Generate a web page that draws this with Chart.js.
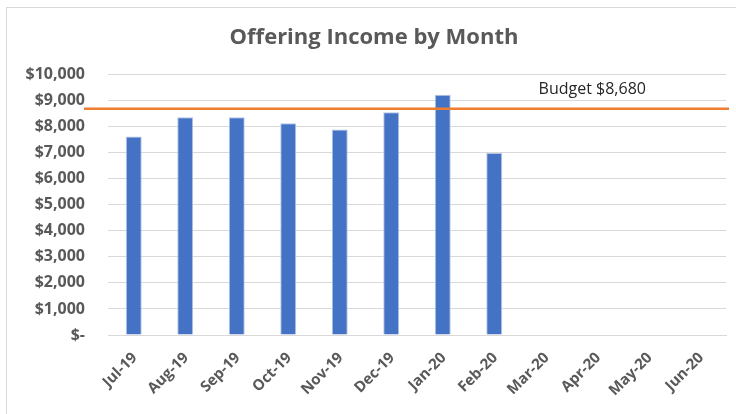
<!DOCTYPE html>
<html>
<head>
<meta charset="utf-8">
<script src="https://cdn.jsdelivr.net/npm/chart.js@4"></script>
<style>
  html, body { margin: 0; padding: 0; background: #fff; overflow: hidden; }
  #wrap { position: absolute; left: 0; top: 0; width: 736px; height: 414px; }
  #frame { position: absolute; left: 6px; top: 7px; width: 760px; height: 440px; border: 1px solid #d9d9d9; box-sizing: border-box; pointer-events: none; }
</style>
</head>
<body>
<div id="wrap"><canvas id="c" width="736" height="414"></canvas></div>
<div id="frame"></div>
<script>
const categories = ["Jul-19","Aug-19","Sep-19","Oct-19","Nov-19","Dec-19","Jan-20","Feb-20","Mar-20","Apr-20","May-20","Jun-20"];
const income = [7620, 8360, 8360, 8130, 7890, 8550, 9220, 6980, null, null, null, null];
const budget = 8680;
const budgetLabel = "Budget $8,680";
const budgetLabelCategory = "Apr-20";
const yTickLabels = {0:"$-",1000:"$1,000",2000:"$2,000",3000:"$3,000",4000:"$4,000",5000:"$5,000",6000:"$6,000",7000:"$7,000",8000:"$8,000",9000:"$9,000",10000:"$10,000"};

const FONT = "'Open Sans', 'Liberation Sans', sans-serif";
const GREY = "#595959";

const budgetPlugin = {
  id: "budgetLine",
  afterDatasetsDraw(chart) {
    const {ctx, chartArea, scales} = chart;
    const y = scales.y.getPixelForValue(budget);
    ctx.save();
    ctx.strokeStyle = "#ED7D31";
    ctx.lineWidth = 2.5;
    ctx.beginPath();
    ctx.moveTo(chartArea.left - 24, y);
    ctx.lineTo(chartArea.right + 3, y);
    ctx.stroke();
    const xi = categories.indexOf(budgetLabelCategory);
    const x = scales.x.getPixelForValue(xi);
    ctx.fillStyle = "#262626";
    ctx.font = "16px " + FONT;
    ctx.textAlign = "center";
    ctx.textBaseline = "middle";
    ctx.fillText(budgetLabel, x - 5, y - 19);
    ctx.restore();
  }
};

new Chart(document.getElementById("c"), {
  type: "bar",
  data: {
    labels: categories,
    datasets: [{
      label: "Income",
      data: income,
      backgroundColor: "#4472C4",
      borderColor: "#B4C7E7",
      borderWidth: {left: 1, right: 1, top: 1, bottom: 0},
      categoryPercentage: 1,
      barPercentage: 0.31
    }]
  },
  options: {
    responsive: false,
    animation: false,
    layout: { padding: { top: 8, right: 10, left: 22, bottom: 0 } },
    plugins: {
      legend: { display: false },
      tooltip: { enabled: false },
      title: {
        display: true,
        text: "Offering Income by Month",
        color: GREY,
        font: { family: FONT, size: 22, weight: "bold" },
        padding: { top: 17, bottom: 23 }
      }
    },
    scales: {
      y: {
        min: 0, max: 10000,
        ticks: {
          stepSize: 1000,
          color: GREY,
          font: { family: FONT, size: 16, weight: "bold" },
          padding: 23,
          callback: (v) => yTickLabels[v]
        },
        grid: { color: "#d9d9d9", lineWidth: 1, drawTicks: false },
        border: { display: false },
        afterFit(s) { s.width = 86; }
      },
      x: {
        ticks: {
          color: GREY,
          font: { family: FONT, size: 15, weight: "bold" },
          maxRotation: 45, minRotation: 45,
          padding: 14,
          labelOffset: 1
        },
        grid: { display: false, drawTicks: false },
        border: { display: true, color: "#d9d9d9", width: 1 },
        afterFit(s) { s.height = 79; }
      }
    }
  },
  plugins: [budgetPlugin]
});
</script>
</body>
</html>
